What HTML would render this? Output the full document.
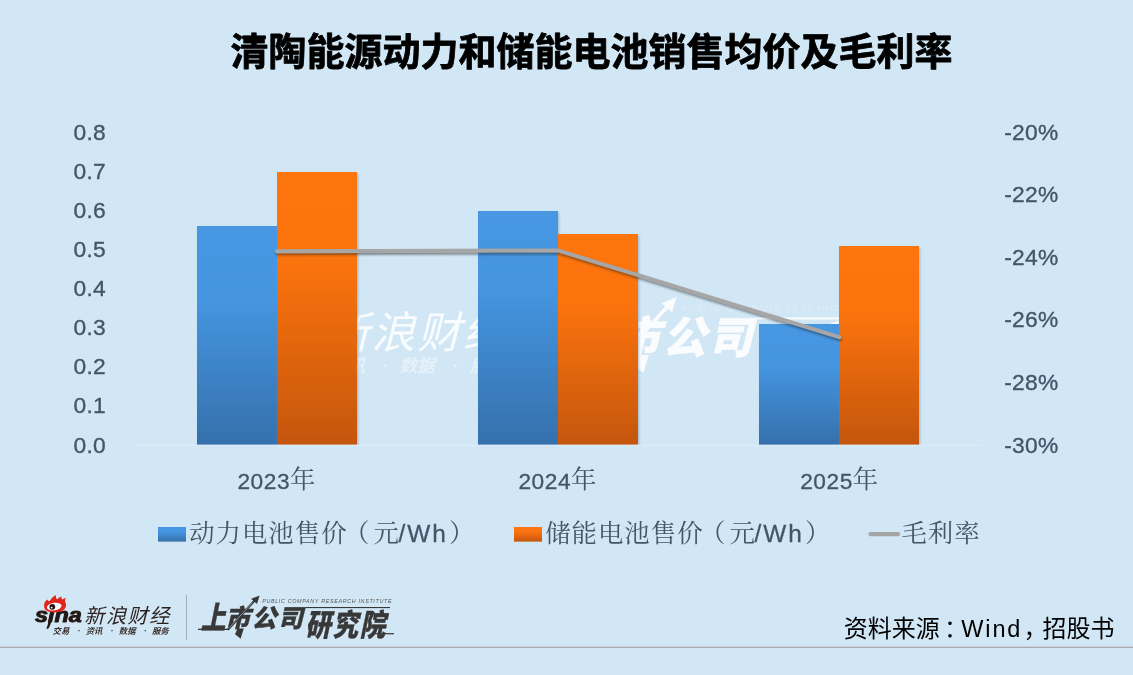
<!DOCTYPE html>
<html lang="zh-CN">
<head>
<meta charset="utf-8">
<title>清陶能源动力和储能电池销售均价及毛利率</title>
<style>
html,body{margin:0;padding:0;background:#d2e7f5;}
body{width:1133px;height:675px;overflow:hidden;position:relative;}
svg{position:absolute;left:0;top:0;display:block;}
.sans{font-family:"Liberation Sans","Noto Sans CJK SC",sans-serif;}
.serif{font-family:"Liberation Sans","Noto Serif CJK SC",serif;}
</style>
</head>
<body>
<svg width="1133" height="675" viewBox="0 0 1133 675">
  <defs>
    <linearGradient id="gb" x1="0" y1="0" x2="0" y2="1">
      <stop offset="0" stop-color="#4697e3"/>
      <stop offset="0.34" stop-color="#4595e0"/>
      <stop offset="1" stop-color="#3570ac"/>
    </linearGradient>
    <linearGradient id="go" x1="0" y1="0" x2="0" y2="1">
      <stop offset="0" stop-color="#fd7411"/>
      <stop offset="0.34" stop-color="#fb7311"/>
      <stop offset="1" stop-color="#c4560e"/>
    </linearGradient>
    <clipPath id="plotclip"><rect x="0" y="0" width="1133" height="444.8"/></clipPath>
    <filter id="bsh" x="-10%" y="-10%" width="125%" height="120%">
      <feDropShadow dx="1.2" dy="1.6" stdDeviation="0.9" flood-color="#4a6a8a" flood-opacity="0.35"/>
    </filter>
    <filter id="lsh" x="-5%" y="-20%" width="110%" height="140%">
      <feDropShadow dx="0.4" dy="1.9" stdDeviation="1.1" flood-color="#222" flood-opacity="0.5"/>
    </filter>
    <filter id="sh" x="-10%" y="-50%" width="120%" height="200%">
      <feGaussianBlur stdDeviation="0.55"/>
    </filter>
  </defs>
  <rect x="0" y="0" width="1133" height="675" fill="#d2e7f5"/>

  <!-- title -->
  <text id="title" class="sans" x="591.5" y="65.4" font-size="38" font-weight="700" text-anchor="middle" fill="#000" stroke="#000" stroke-width="0.8" stroke-linejoin="round">清陶能源动力和储能电池销售均价及毛利率</text>

  <!-- left axis -->
  <g class="sans" font-size="22.8" letter-spacing="0.3" fill="#44546a" stroke="#44546a" stroke-width="0.35" text-anchor="end">
    <text x="106" y="139.6">0.8</text>
    <text x="106" y="178.7">0.7</text>
    <text x="106" y="217.8">0.6</text>
    <text x="106" y="257.0">0.5</text>
    <text x="106" y="296.1">0.4</text>
    <text x="106" y="335.2">0.3</text>
    <text x="106" y="374.3">0.2</text>
    <text x="106" y="413.4">0.1</text>
    <text x="106" y="452.6">0.0</text>
  </g>
  <!-- right axis -->
  <g class="sans" font-size="22.8" letter-spacing="0.3" fill="#44546a" stroke="#44546a" stroke-width="0.35" text-anchor="start">
    <text x="1004.2" y="139.6">-20%</text>
    <text x="1004.2" y="202.2">-22%</text>
    <text x="1004.2" y="264.8">-24%</text>
    <text x="1004.2" y="327.4">-26%</text>
    <text x="1004.2" y="390.0">-28%</text>
    <text x="1004.2" y="452.6">-30%</text>
  </g>

  <!-- watermark -->
  <g id="wm" filter="url(#sh)">
    <g transform="translate(148.3 -969.6) scale(2.115)" fill="#ffffff" opacity="0.85">
      <text class="sans" x="84.0" y="622.8" font-size="20.6" font-weight="400" font-style="italic" letter-spacing="1.0">新浪财经</text>
      <text class="sans" y="634.2" font-size="8.4" font-weight="700" font-style="italic" opacity="0.5"><tspan x="52.6">交易</tspan><tspan x="77.5">·</tspan><tspan x="85.7">资讯</tspan><tspan x="110.6">·</tspan><tspan x="118.8">数据</tspan><tspan x="143.7">·</tspan><tspan x="152">服务</tspan></text>
    </g>
    <g transform="translate(222.2 -744.8) scale(1.75)" fill="#ffffff" stroke="#ffffff" stroke-width="0.3" stroke-linejoin="round" opacity="0.88">
      <text class="sans" font-size="24.8" font-weight="900" font-style="italic" transform="translate(200.8 628.65) scale(1 1.26)">上</text>
      <text class="sans" x="225.3" y="627.3" font-size="24.8" font-weight="900" font-style="italic" letter-spacing="1.6">市公司</text>
      <path d="M237.6 628.5 L243.8 628.5 L240.6 638.8 L235 634.2 Z" stroke="none"/>
      <text class="sans" font-size="30.7" font-weight="900" font-style="italic" letter-spacing="2.2" transform="translate(305.2 635.7) scale(0.83 1)">研究院</text>
      <rect x="198" y="628.7" width="30" height="1.3" stroke="none"/>
      <rect x="305.5" y="607" width="84.5" height="1.1" stroke="none"/>
      <rect x="372" y="633.1" width="22" height="1.2" stroke="none"/>
      <path d="M226.6 629.6 L253.2 600.6 L251 598.9 L259.6 595.4 L257 604 L254.8 602 L228.6 630.4 Z" stroke="none"/>
      <text class="sans" x="262.2" y="603.1" font-size="5.4" font-style="italic" letter-spacing="0.65" stroke="none" opacity="0.3">PUBLIC COMPANY RESEARCH INSTITUTE</text>
    </g>
  </g>


  <!-- bars -->
  <g clip-path="url(#plotclip)"><g filter="url(#bsh)">
  <rect x="197" y="226" width="80" height="219" fill="url(#gb)"/>
  <rect x="277" y="172" width="80" height="273" fill="url(#go)"/>
  <rect x="478" y="211" width="80" height="234" fill="url(#gb)"/>
  <rect x="558" y="234" width="80" height="211" fill="url(#go)"/>
  <rect x="759" y="324" width="80" height="121" fill="url(#gb)"/>
  <rect x="839" y="246" width="80" height="199" fill="url(#go)"/>
  </g></g>

  <!-- axis line -->
  <rect x="135.5" y="444.8" width="845" height="1" fill="#dfedf8"/>

  <!-- line -->
  <polyline filter="url(#lsh)" points="277,251.2 558,250.4 839.5,337.2" fill="none" stroke="#a6a6a6" stroke-width="3.9" stroke-linecap="round" stroke-linejoin="round"/>

  <!-- x labels -->
  <g class="sans" font-size="22.7" fill="#44546a" stroke="#44546a" stroke-width="0.3" letter-spacing="0.55">
    <text x="237.4" y="488.5">2023<tspan class="serif" font-size="25.4" dx="0" dy="-0.5" stroke-width="0" letter-spacing="0">年</tspan></text>
    <text x="518.4" y="488.5">2024<tspan class="serif" font-size="25.4" dx="0" dy="-0.5" stroke-width="0" letter-spacing="0">年</tspan></text>
    <text x="800.2" y="488.5">2025<tspan class="serif" font-size="25.4" dx="0" dy="-0.5" stroke-width="0" letter-spacing="0">年</tspan></text>
  </g>

  <!-- legend -->
  <rect x="158" y="527" width="28" height="14.6" fill="url(#gb)"/>
  <text class="serif" y="542.2" font-size="25.4" fill="#44546a"><tspan x="189.2" letter-spacing="1">动力电池售价</tspan><tspan x="344.0">（</tspan><tspan x="373.4">元</tspan><tspan class="sans" x="398.4" font-size="24.4" letter-spacing="2" stroke="#44546a" stroke-width="0.3">/Wh</tspan><tspan x="449.0">）</tspan></text>
  <rect x="514" y="527" width="28" height="14.6" fill="url(#go)"/>
  <text class="serif" y="542.2" font-size="25.4" fill="#44546a"><tspan x="545.2" letter-spacing="1">储能电池售价</tspan><tspan x="700.0">（</tspan><tspan x="729.4">元</tspan><tspan class="sans" x="754.4" font-size="24.4" letter-spacing="2" stroke="#44546a" stroke-width="0.3">/Wh</tspan><tspan x="805.0">）</tspan></text>
  <line x1="870.6" y1="534.2" x2="898" y2="534.2" stroke="#a5a5a5" stroke-width="4.2" stroke-linecap="round"/>
  <text class="serif" x="901.4" y="542.1" font-size="25.4" letter-spacing="1" fill="#44546a">毛利率</text>

  <!-- footer logo: sina 新浪财经 -->
  <g id="logo-sina">
    <text class="sans" font-size="19.5" font-weight="700" font-style="italic" fill="#231815" stroke="#231815" stroke-width="0.9" stroke-linejoin="round" transform="translate(34.9 621.95) scale(1.2 1)">sina</text>
    <path d="M51.2 621.5 C50.6 624.5 49.6 627 47.9 629 L46.3 628.2 C47.5 626.3 48 624 48.4 621.5 Z" fill="#231815"/>
    <!-- eye -->
    <path d="M44.2 607.5 C43.6 603.5 45 601 47.5 599.6 C48 601 48.6 601.6 49.6 601.2 C51 599 53 596.6 56 595.1 C55.6 597 55.9 598.6 57 599.3 C58.4 598 59.8 597 61.6 596.4 C61.2 597.8 61.4 598.9 62.3 599.6 C63.4 598.8 64.6 598.3 66 598 C65 599.4 64.8 600.6 65.3 602 C66.6 604.5 66.4 607.4 64.2 609.4 C61 612 55.5 612.6 50.5 612 C47 611.5 44.8 610 44.2 607.5 Z" fill="#e1251b"/>
    <ellipse cx="54.2" cy="606.6" rx="7.4" ry="3.8" fill="#fff" transform="rotate(-8 54.2 606.6)"/>
    <circle cx="52.3" cy="606.8" r="2.9" fill="#231815"/>
    <circle cx="51.7" cy="607.6" r="0.9" fill="#fff"/>
    <text class="sans" x="84.3" y="622.8" font-size="20.2" font-weight="400" font-style="italic" letter-spacing="1.45" fill="#2a1f1d">新浪财经</text>
    <text class="sans" y="634" font-size="8.4" font-weight="700" font-style="italic" fill="#3a302e"><tspan x="52.6">交易</tspan><tspan x="77.5">·</tspan><tspan x="85.7">资讯</tspan><tspan x="110.6">·</tspan><tspan x="118.8">数据</tspan><tspan x="143.7">·</tspan><tspan x="152">服务</tspan></text>
  </g>
  <rect x="186" y="595" width="1" height="45" fill="#a3adb8"/>
  <!-- footer logo: 上市公司研究院 -->
  <g id="logo-inst" fill="#383838" stroke="#383838" stroke-width="0.3" stroke-linejoin="round">
      <text class="sans" font-size="24.8" font-weight="900" font-style="italic" transform="translate(200.8 628.65) scale(1 1.26)">上</text>
      <text class="sans" x="225.3" y="627.3" font-size="24.8" font-weight="900" font-style="italic" letter-spacing="1.6">市公司</text>
      <path d="M237.6 628.5 L243.8 628.5 L240.6 638.8 L235 634.2 Z" stroke="none"/>
      <text class="sans" font-size="30.7" font-weight="900" font-style="italic" letter-spacing="2.2" transform="translate(305.2 635.7) scale(0.83 1)">研究院</text>
    <rect x="198" y="628.7" width="30" height="1.3" stroke="none"/>
    <rect x="305.5" y="607" width="84.5" height="1.1" stroke="none"/>
    <rect x="372" y="633.1" width="22" height="1.2" stroke="none"/>
    <path d="M226.6 629.6 L253.2 600.6 L251 598.9 L259.6 595.4 L257 604 L254.8 602 L228.6 630.4 Z" stroke="none"/>
    <path d="M229.4 627.6 L252.6 602.4" stroke="#d2e7f5" stroke-width="0.5" fill="none"/>
    <text class="sans" x="262.2" y="603.1" font-size="5.4" font-style="italic" letter-spacing="0.65" fill="#555" stroke="none">PUBLIC COMPANY RESEARCH INSTITUTE</text>
  </g>

  <!-- source -->
  <text class="sans" y="637" font-size="24" fill="#000"><tspan x="843.8">资料来源</tspan><tspan x="943.9">：</tspan><tspan x="961.2" font-size="23.5" letter-spacing="1.9">Wind</tspan><tspan x="1023.6">，</tspan><tspan x="1042.6">招股书</tspan></text>

  <!-- bottom line -->
  <rect x="0" y="646.7" width="1133" height="1.2" fill="#a9a4a4"/>
</svg>
</body>
</html>
